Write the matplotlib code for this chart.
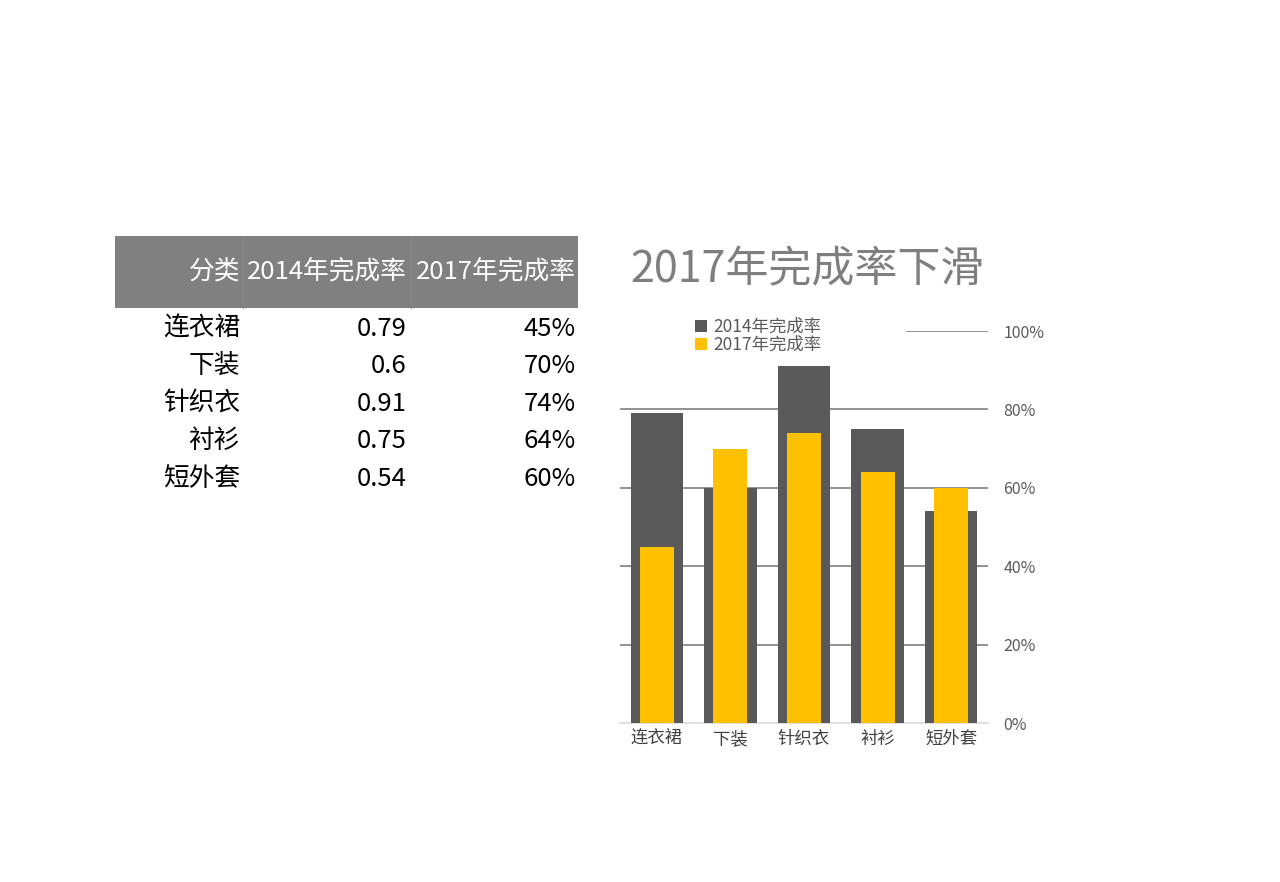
import matplotlib
matplotlib.use("Agg")
import matplotlib.pyplot as plt
from matplotlib.patches import Rectangle

plt.rcParams["font.family"] = ["Noto Sans CJK SC", "DejaVu Sans"]

# ─── Data ─────────────────────────────────────────────────────────────────────
categories = ["连衣裙", "下装", "针织衣", "衬衫", "短外套"]
rate_2014 = [0.79, 0.6, 0.91, 0.75, 0.54]
rate_2017 = [0.45, 0.70, 0.74, 0.64, 0.60]
table_header = ["分类", "2014年完成率", "2017年完成率"]
col_2014_text = ["0.79", "0.6", "0.91", "0.75", "0.54"]
col_2017_text = ["45%", "70%", "74%", "64%", "60%"]
y_ticks = [0, 0.2, 0.4, 0.6, 0.8, 1.0]
y_tick_labels = ["0%", "20%", "40%", "60%", "80%", "100%"]

DARK = "#595959"
YELLOW = "#FFC000"
W, H = 1280, 882

fig = plt.figure(figsize=(W / 100, H / 100), dpi=100)


def fx(px):
    return px / W


def fy(py):
    return 1 - py / H


# ─── Table on the left ────────────────────────────────────────────────────────
fig.patches.append(Rectangle((fx(115), fy(308)), fx(578) - fx(115), fy(236) - fy(308),
                             transform=fig.transFigure, facecolor="#808080",
                             edgecolor="none", zorder=0))
for sep in (243, 411):
    fig.add_artist(plt.Line2D([fx(sep), fx(sep)], [fy(308), fy(236)],
                              transform=fig.transFigure, color="#888888", lw=0.8))

col_right = [240, 407, 576]
for x, label in zip(col_right, table_header):
    fig.text(fx(x), fy(272), label, ha="right", va="center", color="white", fontsize=18.5)

row_y = [329, 366, 404, 441, 479]
for y, cat, a, b in zip(row_y, categories, col_2014_text, col_2017_text):
    for x, txt in zip(col_right, (cat, a, b)):
        fig.text(fx(x), fy(y), txt, ha="right", va="center", color="black", fontsize=18.5)

# ─── Chart ────────────────────────────────────────────────────────────────────
ax = fig.add_axes([fx(620), fy(723), fx(988) - fx(620), fy(331) - fy(723)])
xs = range(len(categories))
b1 = ax.bar(xs, rate_2014, width=0.71, color=DARK, zorder=3, label="2014年完成率")
b2 = ax.bar(xs, rate_2017, width=0.46, color=YELLOW, zorder=4, label="2017年完成率")

ax.set_xlim(-0.5, len(categories) - 0.5)
ax.set_ylim(0, 1.0)
for t in y_ticks[1:-1]:
    ax.axhline(t, color="#7f7f7f", lw=1.2, zorder=1)
# top gridline is hidden behind the legend on its left part
ax.axhline(y_ticks[-1], xmin=0.78, color="#7f7f7f", lw=1.2, zorder=1)

ax.yaxis.tick_right()
ax.set_yticks(y_ticks)
ax.set_yticklabels(y_tick_labels, color=DARK, fontsize=11.5)
ax.tick_params(axis="y", length=0, pad=11)
ax.set_xticks(list(xs))
ax.set_xticklabels(categories, color="#404040", fontsize=12.5)
ax.tick_params(axis="x", length=0, pad=5)
for s in ("top", "left", "right"):
    ax.spines[s].set_visible(False)
ax.spines["bottom"].set_color("#d9d9d9")
ax.spines["bottom"].set_linewidth(1.2)
ax.patch.set_alpha(0)

fig.legend(handles=[b1, b2], loc="upper left", bbox_to_anchor=(fx(686), fy(309)),
           frameon=False, fontsize=12.5, handlelength=0.7, handleheight=0.7,
           handletextpad=0.4, labelspacing=0.0, borderpad=0, labelcolor=DARK)

fig.text(fx(807), fy(270), "2017年完成率下滑", ha="center", va="center",
         color="#7f7f7f", fontsize=31)

fig.savefig("out.png", dpi=100, facecolor="white")
